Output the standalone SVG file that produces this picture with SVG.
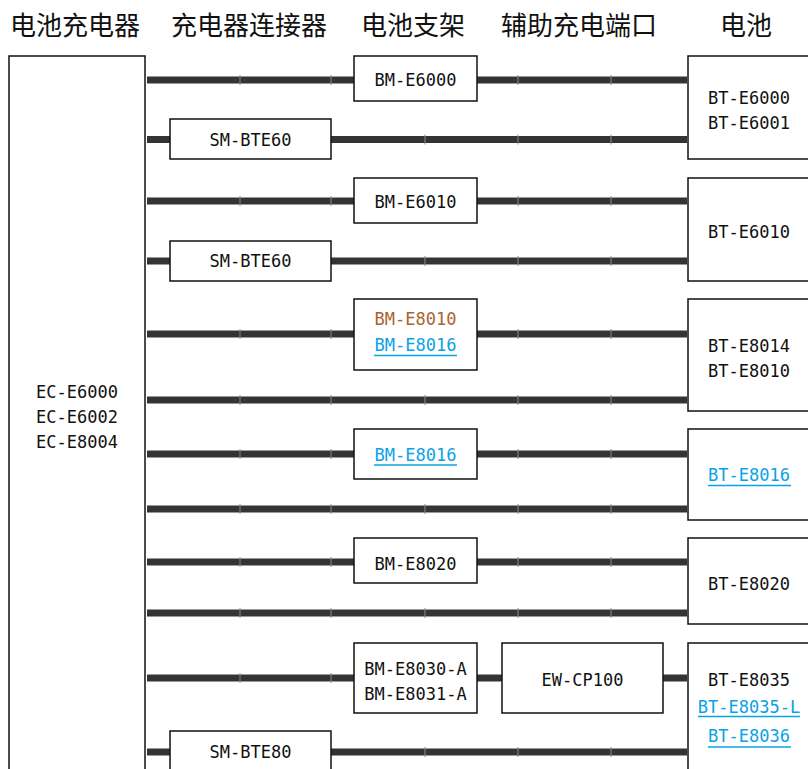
<svg xmlns="http://www.w3.org/2000/svg" width="808" height="769" viewBox="0 0 808 769">
<style>
.hd{font-family:"Noto Sans CJK SC","Noto Sans",sans-serif;font-size:26px;fill:#111;text-anchor:middle}
.t{font-family:"DejaVu Sans Mono","Liberation Mono",monospace;font-size:17px;fill:#111;text-anchor:middle}
.br{fill:#a8652b}
.bl{fill:#0aa2e6}
.ul{stroke:#0aa2e6;stroke-width:1.6}
.box{fill:#fff;stroke:#111;stroke-width:1.5}
.ln{stroke:#343434;stroke-width:7;fill:none}
.tk{stroke:#8a8a8a;stroke-width:1}
</style>
<rect width="808" height="769" fill="#fff"/>
<g id="headers">
<text class="hd" x="75" y="35">电池充电器</text>
<text class="hd" x="249" y="35">充电器连接器</text>
<text class="hd" x="413" y="35">电池支架</text>
<text class="hd" x="579" y="35">辅助充电端口</text>
<text class="hd" x="746" y="35">电池</text>
</g>
<g id="connectors">
<path class="ln" d="M147 80H354M477 80H687"/>
<path class="ln" d="M147 139.5H170M331 139.5H687"/>
<path class="ln" d="M147 201H354M477 201H687"/>
<path class="ln" d="M147 261H170M331 261H687"/>
<path class="ln" d="M147 334H354M477 334H687"/>
<path class="ln" d="M147 400H687"/>
<path class="ln" d="M147 454H354M477 454H687"/>
<path class="ln" d="M147 509H687"/>
<path class="ln" d="M147 562H354M477 562H687"/>
<path class="ln" d="M147 613H687"/>
<path class="ln" d="M147 678H354M477 678H502M663 678H687"/>
<path class="ln" d="M147 752H170M331 752H687"/>
<path class="tk" d="M240 75v10M331 75v10M518 75v10M611 75v10
M425 134.5v10M518 134.5v10M611 134.5v10
M240 196v10M331 196v10M518 196v10M611 196v10
M425 256v10M518 256v10M611 256v10
M240 329v10M331 329v10M518 329v10M611 329v10
M240 395v10M331 395v10M425 395v10M518 395v10M611 395v10
M240 449v10M331 449v10M518 449v10M611 449v10
M240 504v10M331 504v10M425 504v10M518 504v10M611 504v10
M240 557v10M331 557v10M518 557v10M611 557v10
M240 608v10M331 608v10M425 608v10M518 608v10M611 608v10
M240 673v10M331 673v10
M425 747v10M518 747v10M611 747v10"/>
</g>
<g id="charger">
<rect class="box" x="9" y="56" width="136" height="730"/>
<text class="t" x="77" y="397.5">EC-E6000</text>
<text class="t" x="77" y="422.5">EC-E6002</text>
<text class="t" x="77" y="447.5">EC-E8004</text>
</g>
<g id="bm-e6000">
<rect class="box" x="354" y="56" width="123" height="45"/>
<text class="t" x="415.5" y="86">BM-E6000</text>
</g>
<g id="sm-bte60-1">
<rect class="box" x="170" y="119" width="161" height="40"/>
<text class="t" x="250.5" y="145.5">SM-BTE60</text>
</g>
<g id="bt-e6000">
<rect class="box" x="688" y="56" width="124" height="103"/>
<text class="t" x="749" y="104">BT-E6000</text>
<text class="t" x="749" y="129">BT-E6001</text>
</g>
<g id="bm-e6010">
<rect class="box" x="354" y="178" width="123" height="45"/>
<text class="t" x="415.5" y="207.5">BM-E6010</text>
</g>
<g id="sm-bte60-2">
<rect class="box" x="170" y="241" width="161" height="40"/>
<text class="t" x="250.5" y="267">SM-BTE60</text>
</g>
<g id="bt-e6010">
<rect class="box" x="688" y="178" width="124" height="103"/>
<text class="t" x="749" y="238">BT-E6010</text>
</g>
<g id="bm-e8010">
<rect class="box" x="354" y="299" width="123" height="71"/>
<text class="t br" x="415.5" y="325">BM-E8010</text>
<text class="t bl" x="415.5" y="351">BM-E8016</text>
<line class="ul" x1="374" y1="355.5" x2="457" y2="355.5"/>
</g>
<g id="bt-e8014">
<rect class="box" x="688" y="299" width="124" height="112"/>
<text class="t" x="749" y="351.5">BT-E8014</text>
<text class="t" x="749" y="376.5">BT-E8010</text>
</g>
<g id="bm-e8016">
<rect class="box" x="354" y="429" width="123" height="50"/>
<text class="t bl" x="415.5" y="461">BM-E8016</text>
<line class="ul" x1="374" y1="465" x2="457" y2="465"/>
</g>
<g id="bt-e8016">
<rect class="box" x="688" y="429" width="124" height="91"/>
<text class="t bl" x="749" y="481">BT-E8016</text>
<line class="ul" x1="708" y1="485.5" x2="791" y2="485.5"/>
</g>
<g id="bm-e8020">
<rect class="box" x="354" y="538" width="123" height="45"/>
<text class="t" x="415.5" y="570">BM-E8020</text>
</g>
<g id="bt-e8020">
<rect class="box" x="688" y="538" width="124" height="86"/>
<text class="t" x="749" y="590">BT-E8020</text>
</g>
<g id="bm-e8030">
<rect class="box" x="354" y="643" width="123" height="70"/>
<text class="t" x="415.5" y="675">BM-E8030-A</text>
<text class="t" x="415.5" y="700">BM-E8031-A</text>
</g>
<g id="ew-cp100">
<rect class="box" x="502" y="643" width="161" height="70"/>
<text class="t" x="582.5" y="686">EW-CP100</text>
</g>
<g id="bt-e8035">
<rect class="box" x="688" y="643" width="124" height="140"/>
<text class="t" x="749" y="686">BT-E8035</text>
<text class="t bl" x="749" y="712.5">BT-E8035-L</text>
<line class="ul" x1="698" y1="716.5" x2="800" y2="716.5"/>
<text class="t bl" x="749" y="741.5">BT-E8036</text>
<line class="ul" x1="708" y1="747" x2="791" y2="747"/>
</g>
<g id="sm-bte80">
<rect class="box" x="170" y="731" width="161" height="60"/>
<text class="t" x="250.5" y="757.5">SM-BTE80</text>
</g>
</svg>
